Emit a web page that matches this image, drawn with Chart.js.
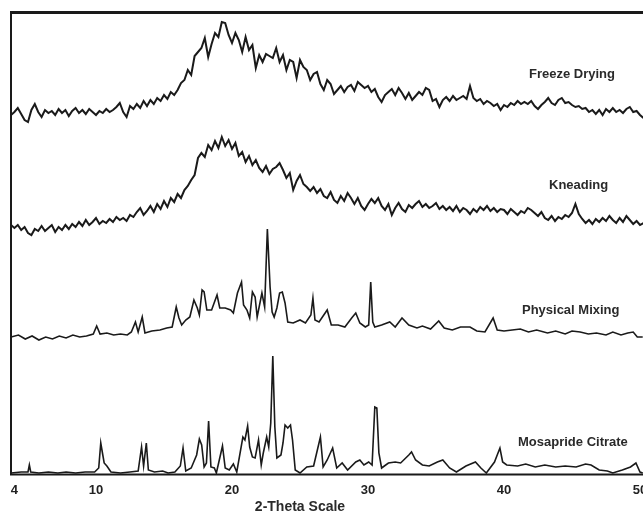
<!DOCTYPE html>
<html>
<head>
<meta charset="utf-8">
<title>XRD patterns</title>
<script src="https://cdn.jsdelivr.net/npm/chart.js@4.4.1/dist/chart.umd.min.js"></script>
<style>
    html, body { margin: 0; padding: 0; background: #fff; }
    #wrap { width: 643px; height: 513px; }
</style>
</head>
<body>
<div id="wrap"><canvas id="xrd" width="643" height="513"></canvas></div>
<script>
// 2-theta window and axis ticks
const THETA_MIN = 3.75;
const THETA_MAX = 50.22;
const AXIS_TICKS = [4, 10, 20, 30, 40, 50];

// amorphous scans, one reading every 0.25 deg starting at THETA_MIN (stacked intensity)
const SCAN_STEP = 0.25;
const freezeDrying = [
    359,
    362, 366, 360, 354,  352, 364, 370, 362,  357, 364, 361, 363,  359, 365, 361, 364,
    358, 363, 366, 361,  364, 360, 365, 362,  359, 363, 361, 365,  362, 364, 367, 371,
    362, 357, 368, 365,  370, 366, 373, 368,  374, 370, 376, 373,  379, 375, 382, 379,
    384, 391, 394, 404,  399, 418, 422, 426,  436, 417, 430, 441,  437, 452, 451, 439,
    431, 441, 434, 422,  437, 424, 429, 406,  419, 412, 420, 418,  416, 426, 412, 419,
    404, 414, 412, 396,  414, 407, 404, 394,  400, 402, 390, 384,  394, 390, 380, 384,
    388, 382, 387, 389,  383, 392, 389, 386,  388, 382, 385, 377,  372, 379, 382, 385,
    379, 386, 381, 375,  381, 374, 378, 382,  379, 386, 384, 373,  375, 367, 374, 377,
    373, 378, 374, 376,  378, 375, 388, 376,  373, 375, 370, 373,  371, 368, 370, 364,
    369, 367, 371, 369,  373, 370, 372, 370,  373, 368, 365, 369,  372, 376, 371, 369,
    374, 376, 371, 372,  369, 367, 368, 365,  366, 362, 364, 360,  364, 359, 365, 362,
    366, 362, 364, 361,  365, 367, 362, 363,  359, 356
];
const kneading = [
    249,
    246, 249, 244, 247,  241, 239, 245, 243,  248, 243, 246, 249,  242, 247, 244, 249,
    245, 250, 247, 252,  248, 254, 249, 252,  256, 250, 253, 251,  255, 252, 257, 254,
    256, 253, 259, 257,  262, 266, 259, 263,  268, 262, 270, 265,  273, 267, 276, 272,
    280, 276, 284, 288,  294, 299, 316, 321,  317, 329, 324, 333,  326, 337, 328, 334,
    325, 331, 318, 322,  312, 318, 309, 314,  306, 302, 308, 300,  305, 307, 311, 304,
    296, 301, 284, 293,  299, 290, 287, 283,  287, 281, 285, 278,  276, 282, 274, 271,
    278, 273, 281, 276,  270, 276, 268, 264,  270, 275, 271, 276,  268, 264, 270, 259,
    266, 271, 265, 262,  269, 266, 270, 273,  267, 270, 266, 268,  271, 265, 268, 264,
    267, 263, 268, 262,  266, 264, 260, 265,  262, 267, 264, 268,  263, 266, 262, 265,
    264, 260, 265, 262,  259, 263, 261, 266,  264, 261, 258, 262,  256, 254, 258, 253,
    257, 255, 259, 257,  261, 270, 260, 255,  251, 254, 250, 255,  252, 256, 253, 258,
    254, 251, 256, 252,  258, 254, 250, 253,  249, 251
];

// crystalline scans, peak/valley readings (2-theta, stacked intensity)
const physMixTheta = [
    3.75, 4.3, 4.8, 5.3, 5.8, 6.3, 6.8, 7.3, 7.8, 8.3, 8.8, 9.3, 9.8, 10.05, 10.3, 10.8,
    11.3, 11.8, 12.3, 12.6, 12.9, 13.1, 13.4, 13.6, 14.1, 14.7, 15.2, 15.6, 15.9, 16.1,
    16.3, 16.6, 16.9, 17.2, 17.45, 17.6, 17.8, 17.95, 18.15, 18.5, 18.9, 19.1, 19.5, 19.9,
    20.1, 20.4, 20.7, 20.85, 21.1, 21.3, 21.5, 21.7, 21.85, 22.2, 22.4, 22.6, 22.8, 22.95,
    23.1, 23.3, 23.5, 23.7, 23.9, 24.1, 24.5, 25.0, 25.4, 25.8, 25.95, 26.1, 26.4, 27.0,
    27.3, 27.8, 28.3, 28.8, 29.1, 29.4, 29.8, 30.05, 30.2, 30.35, 30.5, 31.0, 31.6, 32.0,
    32.5, 33.0, 33.6, 34.0, 34.6, 35.2, 35.6, 36.2, 36.8, 37.5, 38.0, 38.6, 39.2, 39.5,
    40.0, 40.6, 41.2, 41.8, 42.4, 43.2, 43.8, 44.5, 45.0, 45.6, 46.2, 46.8, 47.5, 48.0,
    48.6, 49.1, 49.5, 49.8, 50.2
];
const physMixI = [
    137, 139, 135, 138, 134, 137, 135, 138, 136, 139, 137, 138, 140, 148, 140, 141,
    139, 140, 139, 142, 152, 142, 157, 141, 143, 144, 146, 147, 167, 156,
    149, 154, 157, 174, 166, 159, 184, 182, 164, 164, 179, 166, 166, 164,
    161, 181, 192, 169, 164, 156, 182, 177, 157, 181, 167, 245, 187, 162,
    157, 166, 181, 182, 171, 152, 151, 154, 151, 159, 176, 154, 152, 164,
    149, 149, 147, 156, 161, 151, 147, 149, 192, 152, 147, 149, 152, 147,
    156, 149, 146, 148, 145, 153, 146, 144, 147, 147, 143, 142, 156, 144,
    143, 144, 145, 142, 144, 141, 143, 140, 143, 142, 140, 141, 139, 142,
    139, 141, 142, 137, 137
];
const mosaprideTheta = [
    3.75, 4.5, 5.0, 5.1, 5.2, 5.8, 6.5, 7.2, 7.8, 8.5, 9.2, 9.9, 10.2, 10.35, 10.5, 10.6,
    10.8, 11.1, 11.8, 12.5, 13.1, 13.35, 13.5, 13.7, 13.85, 14.3, 14.9, 15.3, 15.8, 16.2,
    16.4, 16.6, 17.0, 17.4, 17.6, 17.77, 17.95, 18.12, 18.28, 18.45, 18.7, 18.85, 19.3, 19.5,
    19.8, 20.1, 20.35, 20.8, 20.95, 21.15, 21.3, 21.5, 21.7, 21.95, 22.15, 22.3, 22.55, 22.7,
    22.85, 23.0, 23.15, 23.3, 23.6, 23.75, 23.9, 24.1, 24.3, 24.45, 24.65, 25.0, 25.5, 26.0,
    26.5, 26.7, 27.0, 27.4, 27.7, 28.1, 28.5, 29.1, 29.4, 29.7, 30.05, 30.3, 30.5, 30.65,
    30.8, 31.0, 31.5, 32.0, 32.4, 33.0, 33.2, 33.5, 34.0, 34.5, 35.1, 35.5, 36.0, 36.5,
    37.2, 37.9, 38.3, 38.7, 39.3, 39.7, 39.9, 40.2, 41.0, 41.6, 42.3, 43.0, 43.8, 44.5,
    45.3, 46.0, 46.4, 47.0, 47.6, 48.0, 48.7, 49.3, 49.7, 50.0, 50.2
];
const mosaprideI = [
    1, 2, 2, 9, 2, 1, 2, 1, 2, 1, 2, 2, 6, 31, 19, 11,
    8, 2, 1, 2, 3, 27, 8, 31, 4, 2, 3, 1, 2, 8,
    26, 3, 6, 19, 35, 29, 7, 11, 53, 7, 6, 1, 28, 6,
    4, 10, 2, 37, 34, 48, 27, 17, 16, 34, 9, 21, 37, 27,
    51, 118, 47, 16, 19, 31, 49, 46, 49, 34, 4, 1, 7, 8,
    37, 7, 14, 26, 6, 11, 4, 12, 14, 9, 12, 9, 67, 66,
    21, 6, 11, 12, 11, 19, 22, 14, 9, 8, 12, 14, 6, 2,
    8, 12, 6, 1, 12, 26, 12, 9, 8, 10, 7, 9, 7, 8,
    7, 10, 9, 4, 3, 1, 4, 7, 11, 2, 1
];

const seriesNames = ['Freeze Drying', 'Kneading', 'Physical Mixing', 'Mosapride Citrate'];

// where each trace name sits (2-theta, intensity of its baseline)
const nameAnchors = [[41.84, 396], [43.31, 285], [41.32, 160], [41.03, 28]];

const FONT = '"Liberation Sans", Arial, sans-serif';
const INK = '#1a1a1a';

const stepped = arr => arr.map((v, i) => ({ x: THETA_MIN + i * SCAN_STEP, y: v }));
const paired = (xs, ys) => xs.map((t, i) => ({ x: t, y: ys[i] }));

const traces = [
    { data: stepped(freezeDrying), width: 2 },
    { data: stepped(kneading), width: 2 },
    { data: paired(physMixTheta, physMixI), width: 1.6 },
    { data: paired(mosaprideTheta, mosaprideI), width: 1.6 }
];

// frame lines, trace names and axis title
const frameAndNames = {
    id: 'frameAndNames',
    afterDraw(chart) {
        const { ctx, chartArea: a, scales: { x, y } } = chart;
        ctx.save();
        ctx.strokeStyle = INK;
        ctx.lineWidth = 3;
        ctx.beginPath();
        ctx.moveTo(a.left - 1, a.top + 0.5);
        ctx.lineTo(a.right, a.top + 0.5);
        ctx.stroke();
        ctx.lineWidth = 2;
        ctx.beginPath();
        ctx.moveTo(a.left, a.top);
        ctx.lineTo(a.left, a.bottom + 1);
        ctx.moveTo(a.left - 1, a.bottom + 0.5);
        ctx.lineTo(a.right, a.bottom + 0.5);
        ctx.stroke();

        ctx.fillStyle = '#2a2a2a';
        ctx.font = 'bold 13px ' + FONT;
        ctx.textAlign = 'left';
        ctx.textBaseline = 'alphabetic';
        seriesNames.forEach((name, i) => {
            const [t, v] = nameAnchors[i];
            ctx.fillText(name, x.getPixelForValue(t), y.getPixelForValue(v));
        });

        ctx.font = 'bold 14px ' + FONT;
        ctx.textAlign = 'center';
        ctx.fillText('2-Theta Scale', x.getPixelForValue(25), chart.height - 2);
        ctx.restore();
    }
};

new Chart(document.getElementById('xrd'), {
    type: 'line',
    data: {
        datasets: traces.map((t, i) => ({
            label: seriesNames[i],
            data: t.data,
            borderColor: INK,
            borderWidth: t.width,
            pointRadius: 0,
            tension: 0,
            fill: false
        }))
    },
    options: {
        responsive: false,
        animation: false,
        devicePixelRatio: 1,
        layout: { padding: { top: 12, left: 11, right: 0, bottom: 0 } },
        plugins: { legend: { display: false }, tooltip: { enabled: false } },
        scales: {
            x: {
                type: 'linear',
                min: THETA_MIN,
                max: THETA_MAX,
                grid: { display: false, drawTicks: false },
                border: { display: false },
                afterBuildTicks: s => { s.ticks = AXIS_TICKS.map(v => ({ value: v })); },
                afterFit: s => { s.height = 39; s.paddingLeft = 0; s.paddingRight = 0; },
                ticks: {
                    autoSkip: false,
                    maxRotation: 0,
                    padding: 9,
                    color: '#222',
                    font: { family: FONT, size: 13, weight: 'bold' }
                }
            },
            y: { display: false, min: 0, max: 462 }
        }
    },
    plugins: [frameAndNames]
});
</script>
</body>
</html>
